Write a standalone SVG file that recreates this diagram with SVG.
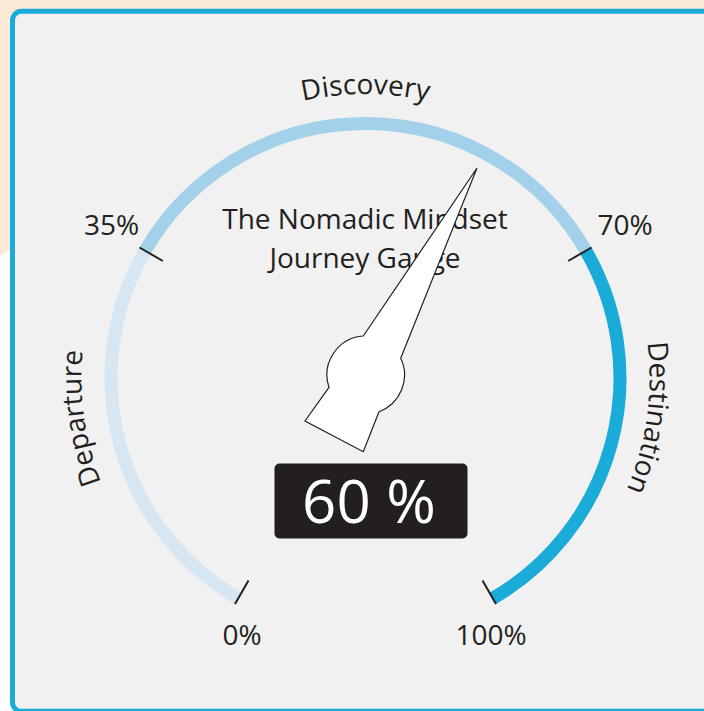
<svg xmlns="http://www.w3.org/2000/svg" width="704" height="711" viewBox="0 0 704 711">
  <style>
    .lbl { font-family: "Open Sans", "Liberation Sans", sans-serif; fill: #231f20; }
    .ring { fill: none; stroke-width: 13; stroke-linecap: butt; }
    .tick { stroke: #231f20; stroke-width: 2; }
  </style>
  <defs>
    <path id="pTop" d="M 81.5 378 A 284 284 0 0 1 649.5 378"/>
    <path id="pLeft" d="M 316.2 657.7 A 284 284 0 0 1 241 122.7"/>
    <path id="pRight" d="M 490 122.7 A 284 284 0 0 1 414.8 657.7"/>
  </defs>
  <g id="background">
    <rect x="0" y="0" width="704" height="711" fill="#fdebd8"/>
    <polygon points="0,256 13,248 13,711 0,711" fill="#ffffff"/>
    <rect x="12.5" y="11.3" width="720" height="700" rx="9" fill="#f1f1f1" stroke="#1aabd8" stroke-width="5"/>
  </g>
  <g id="gauge-ring">
    <path class="ring" stroke="#d6e6f2" d="M 238.25 598.4 A 254.5 254.5 0 0 1 145.1 250.75"/>
    <path class="ring" stroke="#a3d1ea" d="M 145.1 250.75 A 254.5 254.5 0 0 1 585.9 250.75"/>
    <path class="ring" stroke="#1aabd8" d="M 585.9 250.75 A 254.5 254.5 0 0 1 492.75 598.4"/>
  </g>
  <g id="ticks">
    <line class="tick" x1="248.5" y1="580.6" x2="235" y2="604"/>
    <line class="tick" x1="162.9" y1="261" x2="139.5" y2="247.5"/>
    <line class="tick" x1="568.1" y1="261" x2="591.5" y2="247.5"/>
    <line class="tick" x1="482.5" y1="580.6" x2="496" y2="604"/>
  </g>
  <g id="tick-labels" class="lbl" font-size="28" text-anchor="middle">
    <text x="242" y="645">0%</text>
    <text x="111.5" y="235">35%</text>
    <text x="625" y="235">70%</text>
    <text x="491" y="645">100%</text>
  </g>
  <g id="zone-labels" class="lbl" font-size="28" text-anchor="middle">
    <text><textPath href="#pTop" startOffset="50%">Discovery</textPath></text>
    <text><textPath href="#pLeft" startOffset="50%">Departure</textPath></text>
    <text><textPath href="#pRight" startOffset="50%">Destination</textPath></text>
  </g>
  <g id="title" class="lbl" font-size="28" text-anchor="middle">
    <text x="365" y="229">The Nomadic Mindset</text>
    <text x="365" y="268">Journey Gauge</text>
  </g>
  <g id="needle">
    <path d="M 477 168 L 400.7 358.3 A 39 39 0 0 1 379 411.7 L 363.3 451.7 L 305 421 L 329 387.3 A 39 39 0 0 1 363.3 336 Z" fill="#ffffff" stroke="#231f20" stroke-width="1.2" stroke-linejoin="miter"/>
  </g>
  <g id="value">
    <rect x="274.5" y="463.5" width="193" height="75" rx="5" fill="#231f20"/>
    <text x="369" y="522.5" font-family="'Open Sans', 'Liberation Sans', sans-serif" font-size="60" fill="#ffffff" text-anchor="middle">60 %</text>
  </g>
  <g id="connectors"/>
</svg>
